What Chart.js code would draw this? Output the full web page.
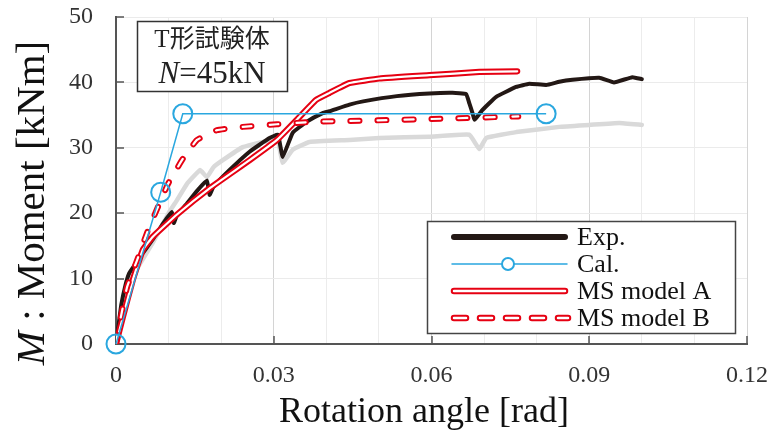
<!DOCTYPE html>
<html>
<head>
<meta charset="utf-8">
<script src="https://cdn.jsdelivr.net/npm/chart.js@4.4.1/dist/chart.umd.min.js"></script>
<style>
  body { margin: 0; background: #fff; }
  canvas { display: block; }
</style>
</head>
<body>
<canvas id="myChart" width="773" height="431"></canvas>
<script>
// rotation angle [rad] / moment [kNm]
const expTheta = [0, 0.0005, 0.001, 0.0018, 0.0025, 0.0035, 0.005, 0.007, 0.009, 0.0106, 0.011, 0.0115, 0.0135, 0.0155, 0.0173, 0.0178, 0.0185, 0.0216, 0.0254, 0.0292, 0.0308, 0.0317, 0.0336, 0.0363, 0.0393, 0.0406, 0.0444, 0.047, 0.0534, 0.0596, 0.064, 0.0666, 0.0672, 0.0678, 0.0682, 0.0697, 0.0723, 0.0761, 0.0786, 0.0818, 0.0843, 0.0868, 0.0919, 0.0947, 0.0982, 0.1]
const expM = [0, 3, 6, 9, 10.8, 12, 13.8, 16, 18.5, 20.2, 18.5, 19.5, 21.5, 23.5, 25, 22.8, 24, 26.6, 29.4, 31.5, 32, 28.6, 32.3, 34, 35.3, 35.6, 36.6, 37.1, 37.9, 38.3, 38.4, 38.2, 36.8, 35.3, 34.3, 35.8, 37.8, 39.3, 39.8, 39.6, 40.1, 40.4, 40.7, 40, 40.8, 40.5]

// second (grey) experimental curve, no legend entry
const exp2Theta = [0, 0.001, 0.002, 0.004, 0.007, 0.01, 0.0116, 0.0135, 0.016, 0.0173, 0.0185, 0.0203, 0.0241, 0.0279, 0.0308, 0.0317, 0.0336, 0.0368, 0.0444, 0.0501, 0.0596, 0.0672, 0.0691, 0.0704, 0.0761, 0.0843, 0.09, 0.0957, 0.1]
const exp2M = [0, 4, 7.5, 11.5, 15.5, 20, 22, 24.5, 26.6, 25.5, 27, 28.1, 30.1, 30.9, 30.9, 27.7, 29.7, 30.9, 31.2, 31.5, 31.7, 32, 29.8, 31.5, 32.4, 33.2, 33.5, 33.8, 33.5]

const calTheta = [0, 0.0085, 0.0127, 0.0818]
const calM = [0, 23.2, 35.2, 35.2]

const modelATheta = [0, 0.0013, 0.0032, 0.0051, 0.007, 0.0116, 0.0178, 0.0254, 0.0306, 0.0344, 0.038, 0.0406, 0.0444, 0.0501, 0.0596, 0.0691, 0.0763]
const modelAM = [0, 4.1, 9.8, 14.4, 16.4, 19.8, 23.8, 28.1, 31.2, 34.3, 37.3, 38.4, 39.9, 40.6, 41.1, 41.6, 41.7]

const modelBTheta = [0, 0.0004, 0.0021, 0.004, 0.0059, 0.008, 0.0099, 0.0127, 0.0154, 0.0192, 0.0241, 0.0306, 0.038, 0.0444, 0.06, 0.0765]
const modelBM = [0, 2, 8.7, 12.8, 17, 21, 24.5, 28.3, 31.2, 32.7, 33.2, 33.6, 34, 34.1, 34.4, 34.8]

const seriesNames = ['Exp.', 'Cal.', 'MS model A', 'MS model B']
const xTickLabels = ['0', '0.03', '0.06', '0.09', '0.12']
const yTickLabels = ['0', '10', '20', '30', '40', '50']
const specimenLabel = 'T形試験体'
const loadLabel = ['N', '=45kN']
const xTitle = 'Rotation angle [rad]'
const yTitle = ['M', ' : Moment [kNm]']

const RED = '#e60012'
const BLUE = '#2aa7df'
const BLACK = '#231815'
const GREY = '#d9d9d9'
const SERIF = '"Liberation Serif", "Times New Roman", serif'

function toPoints(xs, ys) {
  return xs.map((x, i) => ({x: x, y: ys[i]}))
}

let datasets = [
  {data: toPoints(calTheta, calM), borderColor: BLUE, borderWidth: 1.5, pointRadius: 9.5, tension: 0,
    pointBorderWidth: 2, pointBorderColor: BLUE, pointBackgroundColor: 'rgba(0,0,0,0)', clip: false, order: 0},
  {data: toPoints(modelBTheta, modelBM), borderColor: '#fff', borderWidth: 2.2, borderDash: [9, 18],
    borderCapStyle: 'round', pointRadius: 0, order: 1},
  {data: toPoints(modelBTheta, modelBM), borderColor: RED, borderWidth: 6, borderDash: [9, 18],
    borderCapStyle: 'round', pointRadius: 0, order: 2},
  {data: toPoints(modelATheta, modelAM), borderColor: '#fff', borderWidth: 2.2, borderCapStyle: 'round',
    pointRadius: 0, order: 3},
  {data: toPoints(modelATheta, modelAM), borderColor: RED, borderWidth: 6.2, borderCapStyle: 'round',
    pointRadius: 0, order: 4},
  {data: toPoints(expTheta, expM), borderColor: BLACK, borderWidth: 4, borderCapStyle: 'round',
    borderJoinStyle: 'round', pointRadius: 0, order: 5},
  {data: toPoints(exp2Theta, exp2M), borderColor: GREY, borderWidth: 4.5, borderCapStyle: 'round',
    borderJoinStyle: 'round', pointRadius: 0, order: 6}
]

function isMajor(v) {
  return Math.round(v * 100) % 3 === 0
}

function drawMixed(ctx, parts, size, x, y) {
  // first part italic, the rest upright, centred on x
  ctx.font = `italic ${size}px ${SERIF}`
  let w0 = ctx.measureText(parts[0]).width
  ctx.font = `${size}px ${SERIF}`
  let w1 = ctx.measureText(parts[1]).width
  let start = x - (w0 + w1) / 2
  ctx.textAlign = 'left'
  ctx.font = `italic ${size}px ${SERIF}`
  ctx.fillText(parts[0], start, y)
  ctx.font = `${size}px ${SERIF}`
  ctx.fillText(parts[1], start + w0, y)
}

const decorations = {
  id: 'decorations',
  beforeDatasetsDraw(chart) {
    let ctx = chart.ctx
    let xs = chart.scales.x
    let ys = chart.scales.y
    let area = chart.chartArea
    ctx.save()
    ctx.strokeStyle = '#555'
    ctx.lineWidth = 1.5
    xTickLabels.forEach(t => {
      let px = Math.round(xs.getPixelForValue(parseFloat(t)))
      ctx.beginPath()
      ctx.moveTo(px, area.bottom)
      ctx.lineTo(px, area.bottom - 8)
      ctx.stroke()
    })
    yTickLabels.forEach(t => {
      let py = Math.round(ys.getPixelForValue(parseFloat(t)))
      ctx.beginPath()
      ctx.moveTo(area.left, py)
      ctx.lineTo(area.left + 8, py)
      ctx.stroke()
    })
    ctx.restore()
  },
  afterDraw(chart) {
    let ctx = chart.ctx
    ctx.save()
    ctx.fillStyle = '#111'
    ctx.textBaseline = 'alphabetic'

    // axis titles
    ctx.font = `36px ${SERIF}`
    ctx.textAlign = 'center'
    ctx.fillText(xTitle, 424, 422)
    ctx.save()
    ctx.translate(44, 203)
    ctx.rotate(-Math.PI / 2)
    drawMixed(ctx, yTitle, 41, 0, 0)
    ctx.restore()

    // specimen box
    ctx.fillStyle = '#fff'
    ctx.fillRect(137, 21, 150, 70)
    ctx.strokeStyle = '#333'
    ctx.lineWidth = 1.5
    ctx.strokeRect(137.5, 21.5, 150, 70)
    ctx.fillStyle = '#222'
    ctx.textAlign = 'center'
    ctx.font = `25px ${SERIF}, "Noto Sans CJK JP"`
    ctx.fillText(specimenLabel, 212, 47)
    drawMixed(ctx, loadLabel, 31, 212, 83)

    // legend
    ctx.fillStyle = '#fff'
    ctx.fillRect(427, 221, 308, 112)
    ctx.strokeStyle = '#444'
    ctx.lineWidth = 1.5
    ctx.strokeRect(427.5, 221.5, 308, 112)
    let rows = [237, 264, 291, 318]
    let x0 = 454, x1 = 565
    ctx.lineCap = 'round'
    // Exp.
    ctx.strokeStyle = BLACK
    ctx.lineWidth = 6
    ctx.beginPath(); ctx.moveTo(x0, rows[0]); ctx.lineTo(x1, rows[0]); ctx.stroke()
    // Cal.
    ctx.strokeStyle = BLUE
    ctx.lineWidth = 1.5
    ctx.beginPath(); ctx.moveTo(x0 - 2, rows[1]); ctx.lineTo(x1 + 2, rows[1]); ctx.stroke()
    ctx.lineWidth = 2
    ctx.fillStyle = '#fff'
    ctx.beginPath(); ctx.arc(508, rows[1], 6, 0, Math.PI * 2); ctx.fill(); ctx.stroke()
    // model A
    ctx.strokeStyle = RED
    ctx.lineWidth = 6.5
    ctx.beginPath(); ctx.moveTo(x0, rows[2]); ctx.lineTo(x1, rows[2]); ctx.stroke()
    ctx.strokeStyle = '#fff'
    ctx.lineWidth = 2.5
    ctx.beginPath(); ctx.moveTo(x0, rows[2]); ctx.lineTo(x1, rows[2]); ctx.stroke()
    // model B
    ctx.setLineDash([12, 14])
    ctx.strokeStyle = RED
    ctx.lineWidth = 6.5
    ctx.beginPath(); ctx.moveTo(x0, rows[3]); ctx.lineTo(x1 + 3, rows[3]); ctx.stroke()
    ctx.strokeStyle = '#fff'
    ctx.lineWidth = 2.5
    ctx.beginPath(); ctx.moveTo(x0, rows[3]); ctx.lineTo(x1 + 3, rows[3]); ctx.stroke()
    ctx.setLineDash([])

    ctx.fillStyle = '#111'
    ctx.textAlign = 'left'
    ctx.font = `26px ${SERIF}`
    seriesNames.forEach((name, i) => ctx.fillText(name, 577, rows[i] + 8))
    ctx.restore()
  }
}

let ctx = document.querySelector('#myChart').getContext('2d')
let myChart = new Chart(ctx, {
  type: 'line',
  data: {datasets: datasets},
  plugins: [decorations],
  options: {
    responsive: false,
    animation: false,
    events: [],
    layout: {padding: {left: 0, right: 26, top: 17, bottom: 0}},
    plugins: {legend: {display: false}, tooltip: {enabled: false}},
    elements: {line: {tension: 0.1}},
    scales: {
      x: {
        type: 'linear',
        min: 0,
        max: 0.12,
        afterFit: scale => {
          scale.height = 87
          scale.paddingLeft = 0
          scale.paddingRight = 0
        },
        border: {color: '#555', width: 2},
        grid: {
          drawTicks: false,
          color: c => isMajor(c.tick.value) ? '#d4d4d4' : '#ececec',
          lineWidth: 1
        },
        ticks: {
          stepSize: 0.01,
          autoSkip: false,
          maxRotation: 0,
          padding: 17,
          color: '#333',
          font: {family: SERIF, size: 24},
          callback: v => {
            if (!isMajor(v)) return ''
            let label = xTickLabels.find(t => Math.abs(parseFloat(t) - v) < 1e-6)
            return label === undefined ? '' : label
          }
        }
      },
      y: {
        min: 0,
        max: 50,
        afterFit: scale => {
          scale.width = 116
          scale.paddingTop = 0
          scale.paddingBottom = 0
        },
        border: {color: '#555', width: 2},
        grid: {drawTicks: false, color: '#ebebeb', lineWidth: 1},
        ticks: {
          stepSize: 10,
          padding: 23,
          color: '#333',
          font: {family: SERIF, size: 24},
          callback: v => yTickLabels[Math.round(v / 10)]
        }
      }
    }
  }
})
</script>
</body>
</html>
